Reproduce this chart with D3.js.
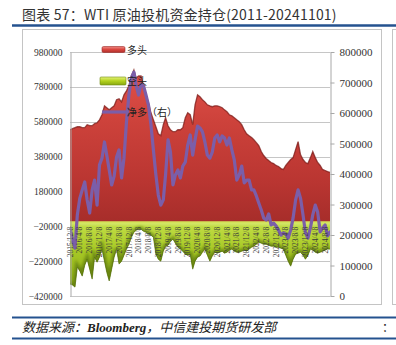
<!DOCTYPE html>
<html>
<head>
<meta charset="utf-8">
<script src="https://cdn.jsdelivr.net/npm/d3@7"></script>
<style>
  html, body { margin: 0; padding: 0; background: #fff; }
  svg { display: block; }
</style>
</head>
<body>
<svg id="chart" width="396" height="345"></svg>
<script>
// Monthly CFTC positions, first observation date
const startDate = "2015-12-08";

// 多头 (managed money long, contracts) – left axis
const longPos = [
  534000, 540000, 546000, 551000, 551000, 546000, 546000, 563000, 557000, 557000,
  569000, 574000, 591000, 620000, 671000, 660000, 648000, 660000, 671000, 706000,
  711000, 694000, 734000, 757000, 786000, 843000, 877000, 831000, 843000, 843000,
  786000, 734000, 689000, 631000, 591000, 551000, 511000, 500000, 563000, 603000,
  557000, 534000, 523000, 523000, 534000, 534000, 546000, 603000, 631000, 620000,
  563000, 677000, 734000, 723000, 706000, 694000, 677000, 671000, 666000, 671000,
  671000, 666000, 660000, 648000, 637000, 620000, 614000, 603000, 591000, 580000,
  563000, 534000, 511000, 500000, 489000, 477000, 460000, 443000, 409000, 386000,
  369000, 357000, 346000, 340000, 329000, 323000, 311000, 306000, 329000, 346000,
  363000, 374000, 420000, 466000, 391000, 363000, 346000, 340000, 374000, 409000,
  374000, 346000, 329000, 306000, 300000, 294000, 289000
];

// 空头 (managed money short, contracts, shown negative) – left axis
const shortPos = [
  -351000, -357000, -369000, -254000, -277000, -306000, -243000, -209000, -266000, -323000,
  -197000, -226000, -197000, -151000, -220000, -283000, -334000, -266000, -197000, -151000,
  -237000, -220000, -186000, -151000, -123000, -83000, -54000, -43000, -37000, -37000,
  -49000, -54000, -66000, -71000, -83000, -180000, -209000, -220000, -163000, -134000,
  -129000, -106000, -94000, -117000, -140000, -151000, -163000, -180000, -186000, -180000,
  -266000, -220000, -197000, -191000, -169000, -151000, -186000, -220000, -191000, -169000,
  -174000, -169000, -163000, -174000, -169000, -157000, -151000, -163000, -169000, -169000,
  -163000, -157000, -163000, -151000, -140000, -134000, -123000, -111000, -117000, -123000,
  -123000, -129000, -134000, -134000, -140000, -140000, -146000, -151000, -186000, -220000,
  -249000, -209000, -180000, -174000, -169000, -186000, -209000, -186000, -151000, -157000,
  -169000, -174000, -169000, -163000, -157000, -151000, -151000
];

// 净多 (net long, contracts) – right axis
const netLong = [
  223000, 184000, 157000, 266000, 321000, 348000, 374000, 315000, 272000, 348000,
  380000, 298000, 430000, 452000, 505000, 462000, 413000, 364000, 393000, 456000,
  479000, 387000, 452000, 571000, 659000, 715000, 734000, 689000, 659000, 695000,
  689000, 659000, 626000, 561000, 479000, 397000, 331000, 298000, 315000, 397000,
  512000, 472000, 364000, 397000, 413000, 387000, 426000, 439000, 495000, 528000,
  462000, 512000, 557000, 551000, 538000, 505000, 462000, 452000, 472000, 518000,
  528000, 505000, 525000, 518000, 495000, 518000, 479000, 446000, 380000, 397000,
  426000, 371000, 380000, 380000, 348000, 348000, 328000, 305000, 282000, 256000,
  249000, 269000, 233000, 239000, 230000, 216000, 200000, 207000, 203000, 190000,
  216000, 256000, 315000, 348000, 321000, 266000, 207000, 190000, 223000, 266000,
  298000, 275000, 210000, 223000, 233000, 197000, 210000
];

const leftTicks = [-420000, -220000, -20000, 180000, 380000, 580000, 780000, 980000];
const rightTicks = [0, 100000, 200000, 300000, 400000, 500000, 600000, 700000, 800000];
const dateTicks = [
  "2015/12/8", "2016/4/8", "2016/8/8", "2016/12/8", "2017/4/8", "2017/8/8", "2017/12/8",
  "2018/4/8", "2018/8/8", "2018/12/8", "2019/4/8", "2019/8/8", "2019/12/8", "2020/4/8",
  "2020/8/8", "2020/12/8", "2021/4/8", "2021/8/8", "2021/12/8", "2022/4/8", "2022/8/8",
  "2022/12/8", "2023/4/8", "2023/8/8", "2023/12/8", "2024/4/8", "2024/8/8"
];
const seriesNames = ["多头", "空头", "净多（右）"];

const titleText = "图表 57：WTI 原油投机资金持仓(2011-20241101)";

// ---------------------------------------------------------------
const svg = d3.select("#chart");
const plot = { left: 70, right: 330, top: 52, bottom: 296 };
const CJK = "'Noto Sans CJK SC', 'Noto Sans', sans-serif";
const SERIF = "'Liberation Serif', 'DejaVu Serif', serif";

const t0 = d3.timeParse("%Y-%m-%d")(startDate);
const dates = longPos.map((_, i) => d3.timeMonth.offset(t0, i));
const rows = dates.map((d, i) => ({ date: d, long: longPos[i], short: shortPos[i], net: netLong[i] }));

const x = d3.scaleTime().domain(d3.extent(dates)).range([plot.left, plot.right]);
const yL = d3.scaleLinear().domain([-420000, 980000]).range([plot.bottom, plot.top]);
const yR = d3.scaleLinear().domain([0, 800000]).range([plot.bottom, plot.top]);

// ---------- defs ----------
const defs = svg.append("defs");
const redGrad = defs.append("linearGradient").attr("id", "redGrad")
  .attr("gradientUnits", "userSpaceOnUse")
  .attr("x1", 0).attr("x2", 0).attr("y1", yL(900000)).attr("y2", yL(0));
[["0", "#e2524b"], ["0.35", "#cd423b"], ["0.75", "#b93531"], ["1", "#a62d2a"]]
  .forEach(([o, c]) => redGrad.append("stop").attr("offset", o).attr("stop-color", c));

const greenGrad = defs.append("linearGradient").attr("id", "greenGrad")
  .attr("gradientUnits", "userSpaceOnUse")
  .attr("x1", 0).attr("x2", 0).attr("y1", yL(0)).attr("y2", yL(-380000));
[["0", "#d6e873"], ["0.06", "#bfdb42"], ["0.4", "#a8c926"], ["1", "#8aa917"]]
  .forEach(([o, c]) => greenGrad.append("stop").attr("offset", o).attr("stop-color", c));

const swRed = defs.append("linearGradient").attr("id", "swRed")
  .attr("x1", 0).attr("x2", 0).attr("y1", 0).attr("y2", 1);
[["0", "#f08a84"], ["0.5", "#d9463f"], ["1", "#b0302c"]]
  .forEach(([o, c]) => swRed.append("stop").attr("offset", o).attr("stop-color", c));
const swGreen = defs.append("linearGradient").attr("id", "swGreen")
  .attr("x1", 0).attr("x2", 0).attr("y1", 0).attr("y2", 1);
[["0", "#e4f27a"], ["0.5", "#b2d11c"], ["1", "#88a812"]]
  .forEach(([o, c]) => swGreen.append("stop").attr("offset", o).attr("stop-color", c));

defs.append("filter").attr("id", "soft").attr("x", "-5%").attr("y", "-5%")
  .attr("width", "110%").attr("height", "110%")
  .append("feGaussianBlur").attr("stdDeviation", 0.7);
defs.append("filter").attr("id", "shade").attr("x", "-5%").attr("y", "-10%")
  .attr("width", "110%").attr("height", "120%")
  .append("feGaussianBlur").attr("stdDeviation", 1.6);

defs.append("clipPath").attr("id", "plotClip").append("rect")
  .attr("x", plot.left).attr("y", plot.top)
  .attr("width", plot.right - plot.left).attr("height", plot.bottom - plot.top);

// ---------- page furniture ----------
svg.append("text").attr("x", 22).attr("y", 20)
  .attr("font-family", CJK).attr("font-size", 14).attr("letter-spacing", 0.2).attr("fill", "#333")
  .text(titleText);
svg.append("line").attr("x1", 12).attr("x2", 396).attr("y1", 25.5).attr("y2", 25.5)
  .attr("stroke", "#24528f").attr("stroke-width", 2.5);

svg.append("rect").attr("x", 22.5).attr("y", 29.5).attr("width", 359).attr("height", 275)
  .attr("fill", "none").attr("stroke", "#c4c4c4");
svg.append("rect").attr("x", 392.5).attr("y", 29.5).attr("width", 20).attr("height", 275)
  .attr("fill", "none").attr("stroke", "#c4c4c4");

svg.append("line").attr("x1", 12).attr("x2", 396).attr("y1", 317.5).attr("y2", 317.5)
  .attr("stroke", "#24528f").attr("stroke-width", 2);
svg.append("line").attr("x1", 12).attr("x2", 396).attr("y1", 338.5).attr("y2", 338.5)
  .attr("stroke", "#24528f").attr("stroke-width", 2);
const foot = svg.append("text").attr("x", 22).attr("y", 332)
  .attr("font-size", 13).attr("font-style", "italic").attr("font-weight", "bold").attr("fill", "#222");
foot.append("tspan").attr("font-family", CJK).attr("font-weight", "normal").text("数据来源：");
foot.append("tspan").attr("font-family", SERIF).text("Bloomberg");
foot.append("tspan").attr("font-family", CJK).attr("font-weight", "normal").text("，中信建投期货研发部");
svg.append("text").attr("x", 382).attr("y", 332).attr("font-family", CJK)
  .attr("font-size", 12).attr("fill", "#222").text("：");

// ---------- gridlines ----------
svg.append("g").selectAll("line").data(leftTicks).join("line")
  .attr("x1", plot.left).attr("x2", plot.right)
  .attr("y1", d => Math.round(yL(d)) + 0.5).attr("y2", d => Math.round(yL(d)) + 0.5)
  .attr("stroke", "#c6c6c6").attr("stroke-width", 1);

// ---------- areas ----------
const g = svg.append("g").attr("clip-path", "url(#plotClip)");

const longArea = d3.area().x(d => x(d.date)).y0(yL(0)).y1(d => yL(d.long));
const shortArea = d3.area().x(d => x(d.date)).y0(yL(0)).y1(d => yL(d.short));
const longEdge = d3.line().x(d => x(d.date)).y(d => yL(d.long));
const shortEdge = d3.line().x(d => x(d.date)).y(d => yL(d.short));

g.append("path").datum(rows).attr("d", longArea).attr("fill", "url(#redGrad)");
g.append("path").datum(rows).attr("d", longEdge).attr("fill", "none")
  .attr("stroke", "#7d1b19").attr("stroke-width", 1.3).attr("opacity", 0.75)
  .attr("filter", "url(#soft)");

defs.append("clipPath").attr("id", "shortClip").append("path").datum(rows).attr("d", shortArea);
g.append("path").datum(rows).attr("d", shortArea).attr("fill", "url(#greenGrad)");
g.append("g").attr("clip-path", "url(#shortClip)")
  .append("path").datum(rows).attr("d", shortEdge).attr("fill", "none")
  .attr("stroke", "#5b770b").attr("stroke-width", 5).attr("opacity", 0.75)
  .attr("filter", "url(#shade)");
g.append("path").datum(rows).attr("d", shortEdge).attr("fill", "none")
  .attr("stroke", "#4f6a08").attr("stroke-width", 1).attr("opacity", 0.7)
  .attr("filter", "url(#soft)");

// bright rim along the zero line
g.append("line").attr("x1", plot.left).attr("x2", plot.right)
  .attr("y1", yL(0) - 0.5).attr("y2", yL(0) - 0.5)
  .attr("stroke", "#d3e35a").attr("stroke-width", 2);

// ---------- date labels inside the plot ----------
const parseTick = d3.timeParse("%Y/%m/%d");
svg.append("g").selectAll("text").data(dateTicks).join("text")
  .attr("transform", d => `translate(${x(parseTick(d))},${yL(0) + 4}) rotate(-90)`)
  .attr("text-anchor", "end").attr("dy", "0.35em")
  .attr("font-family", SERIF).attr("font-size", 7.5).attr("fill", "#3a3a3a")
  .text(d => d);

// ---------- net long line ----------
const netLine = d3.line().x(d => x(d.date)).y(d => yR(d.net));
g.append("path").datum(rows).attr("d", netLine).attr("fill", "none")
  .attr("stroke", "#7b5ea9").attr("stroke-width", 3.2)
  .attr("stroke-linejoin", "round").attr("stroke-linecap", "round");

// ---------- axes ----------
const fmt = d3.format("d");
const axL = svg.append("g").attr("transform", `translate(${plot.left + 0.5},0)`)
  .call(d3.axisLeft(yL).tickValues(leftTicks).tickFormat(fmt).tickSize(0).tickPadding(8));
axL.select(".domain").attr("stroke", "#a8a8a8");
axL.selectAll("text").attr("font-family", SERIF).attr("font-size", 9.5).attr("fill", "#333");

const axR = svg.append("g").attr("transform", `translate(${plot.right + 0.5},0)`)
  .call(d3.axisRight(yR).tickValues(rightTicks).tickFormat(fmt)
    .tickSize(4).tickSizeOuter(0).tickPadding(5));
axR.select(".domain").attr("stroke", "#a8a8a8");
axR.selectAll("line").attr("stroke", "#a8a8a8");
axR.selectAll("text").attr("font-family", SERIF).attr("font-size", 11).attr("fill", "#333");

// ---------- legend ----------
const lg = svg.append("g").attr("font-family", CJK).attr("font-size", 10).attr("fill", "#222");
lg.append("rect").attr("x", 102).attr("y", 46.5).attr("width", 23).attr("height", 6).attr("rx", 1.5)
  .attr("fill", "url(#swRed)").attr("stroke", "#9a2a27").attr("stroke-width", 0.6);
lg.append("text").attr("x", 127).attr("y", 50).attr("dy", "0.35em").text(seriesNames[0]);
lg.append("rect").attr("x", 100).attr("y", 77).attr("width", 26).attr("height", 8).attr("rx", 1)
  .attr("fill", "url(#swGreen)").attr("stroke", "#6f8a10").attr("stroke-width", 0.6);
lg.append("text").attr("x", 127).attr("y", 81).attr("dy", "0.35em").text(seriesNames[1]);
lg.append("line").attr("x1", 102).attr("x2", 126).attr("y1", 112).attr("y2", 112)
  .attr("stroke", "#7b5ea9").attr("stroke-width", 3.2);
lg.append("text").attr("x", 127).attr("y", 112).attr("dy", "0.35em").text(seriesNames[2]);
</script>
</body>
</html>
